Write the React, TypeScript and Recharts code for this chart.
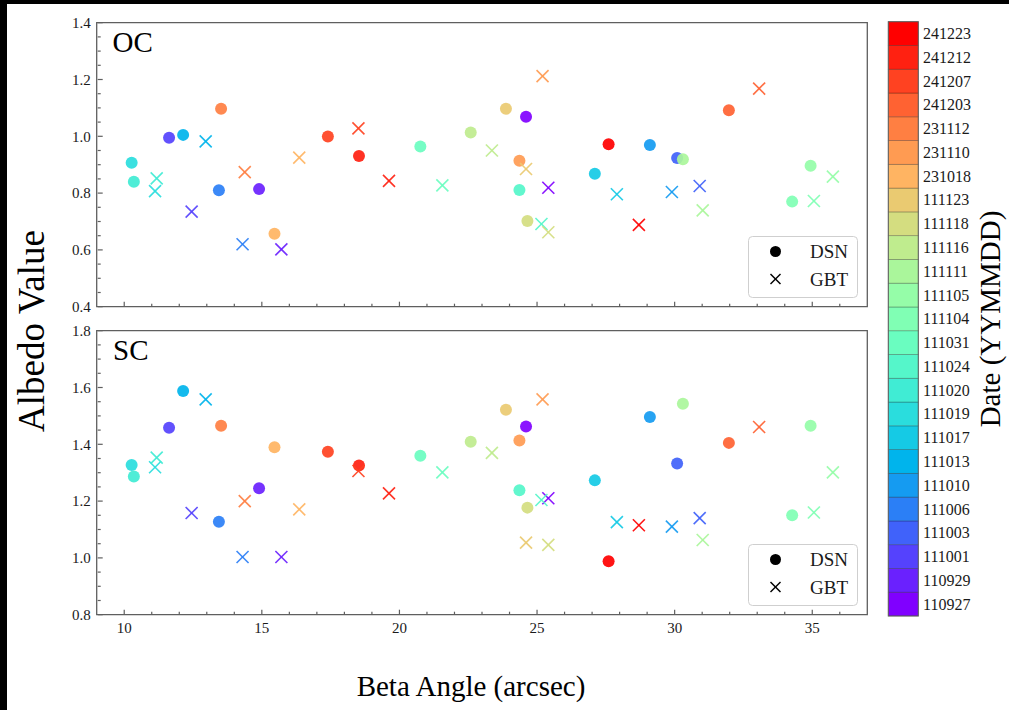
import React from 'react';
import { ScatterChart, Scatter, XAxis, YAxis, ReferenceArea, Legend } from 'recharts';

// observation dates, oldest first (colorbar runs bottom -> top)
const dates = [
  '110927', '110929', '111001', '111003', '111006', '111010', '111013', '111017', '111019',
  '111020', '111024', '111031', '111104', '111105', '111111', '111116', '111118', '111123',
  '231018', '231110', '231112', '241203', '241207', '241212', '241223',
];

// one DSN and one GBT observation per date, same order as dates
const dsnBeta = [24.6, 14.9, 11.63, 30.09, 13.44, 29.1, 12.14, 27.1, 10.27, 10.35, 24.36, 20.76, 34.27, 34.94, 30.3, 22.59, 24.65, 23.87, 15.46, 24.36, 13.52, 31.97, 17.4, 18.53, 27.6];
const dsnOC = [1.069, 0.814, 0.995, 0.924, 0.81, 0.969, 1.005, 0.868, 0.907, 0.84, 0.811, 0.964, 0.77, 0.896, 0.919, 1.013, 0.702, 1.097, 0.657, 0.914, 1.097, 1.092, 0.999, 0.931, 0.972];
const dsnSC = [1.463, 1.245, 1.458, 1.332, 1.127, 1.496, 1.588, 1.273, 1.327, 1.287, 1.238, 1.36, 1.15, 1.465, 1.543, 1.409, 1.177, 1.522, 1.39, 1.413, 1.465, 1.405, 1.374, 1.325, 0.988];

const gbtBeta = [25.41, 15.71, 12.45, 30.91, 14.3, 29.9, 12.96, 27.9, 11.12, 11.18, 25.16, 21.56, 35.06, 35.75, 31.02, 23.36, 25.41, 24.6, 16.36, 25.2, 14.38, 33.07, 18.51, 19.62, 28.7];
const gbtOC = [0.819, 0.602, 0.735, 0.825, 0.62, 0.804, 0.982, 0.796, 0.807, 0.852, 0.691, 0.827, 0.772, 0.858, 0.739, 0.95, 0.662, 0.885, 0.925, 1.212, 0.874, 1.168, 1.028, 0.843, 0.688];
const gbtSC = [1.21, 1.003, 1.158, 1.14, 1.003, 1.11, 1.558, 1.126, 1.319, 1.353, 1.204, 1.301, 1.16, 1.301, 1.063, 1.37, 1.046, 1.054, 1.171, 1.558, 1.2, 1.461, 1.306, 1.227, 1.115];

const betaTicks = [10, 15, 20, 25, 30, 35];
const ocTicks = [0.4, 0.6, 0.8, 1.0, 1.2, 1.4];
const scTicks = [0.8, 1.0, 1.2, 1.4, 1.6, 1.8];

const FONT = '"Liberation Serif", "DejaVu Serif", serif';
const AXIS = '#5f5f5f';
const TXT = '#1a1a1a';
const GAP = 7;

// matplotlib "rainbow" colormap
const rainbow = (t: number) => {
  const r = Math.min(1, Math.abs(2 * t - 0.5));
  const g = Math.sin(Math.PI * t);
  const b = Math.cos((Math.PI * t) / 2);
  return `rgb(${Math.round(r * 255)},${Math.round(g * 255)},${Math.round(b * 255)})`;
};
const colorOf = (i: number) => rainbow(i / (dates.length - 1));

const stepTicks = (lo: number, hi: number, step: number) => {
  const out: number[] = [];
  const n = Math.round((hi - lo) / step);
  for (let k = 0; k <= n; k++) out.push(+(lo + k * step).toFixed(4));
  return out;
};

const isMajor = (v: number, majors: number[]) => majors.some(m => Math.abs(m - v) < 1e-6);

const YTick = ({ x, y, payload, majors }: any) => {
  const v = payload.value;
  const major = isMajor(v, majors);
  const x0 = x + GAP;
  return (
    <g>
      <line x1={x0} x2={x0 + (major ? 5 : 3)} y1={y} y2={y} stroke={AXIS} strokeWidth={1.2} />
      {major && (
        <text x={x} y={y} dy="0.35em" textAnchor="end" fontSize={15} fill={TXT} fontFamily={FONT}>
          {v.toFixed(1)}
        </text>
      )}
    </g>
  );
};

const XTick = ({ x, y, payload, labels }: any) => {
  const v = payload.value;
  const major = isMajor(v, betaTicks);
  const y0 = y - GAP;
  return (
    <g>
      <line x1={x} x2={x} y1={y0} y2={y0 - (major ? 5 : 3)} stroke={AXIS} strokeWidth={1.2} />
      {major && labels && (
        <text x={x} y={y} dy="0.75em" textAnchor="middle" fontSize={15} fill={TXT} fontFamily={FONT}>
          {v}
        </text>
      )}
    </g>
  );
};

const Dot = (p: any) => (
  <circle cx={p.cx} cy={p.cy} r={6} fill={colorOf(p.payload.idx)} fillOpacity={0.92} />
);

const Cross = (p: any) => {
  const s = 6;
  const c = colorOf(p.payload.idx);
  return (
    <g stroke={c} strokeWidth={1.6} strokeOpacity={0.92}>
      <line x1={p.cx - s} y1={p.cy - s} x2={p.cx + s} y2={p.cy + s} />
      <line x1={p.cx - s} y1={p.cy + s} x2={p.cx + s} y2={p.cy - s} />
    </g>
  );
};

const LegendBox = ({ payload }: any) => {
  const names: string[] = payload && payload.length ? payload.map((e: any) => e.value) : ['DSN', 'GBT'];
  return (
    <svg width={110} height={62} style={{ display: 'block' }}>
      <rect x={0.5} y={0.5} width={109} height={61} rx={4} fill="#fff" fillOpacity={0.85} stroke="#cfcfcf" />
      {names.map((n, i) => {
        const cy = 15.5 + i * 27.5;
        return (
          <g key={n}>
            {n === 'DSN' ? (
              <circle cx={27.5} cy={cy} r={5.5} fill="#000" />
            ) : (
              <g stroke="#000" strokeWidth={1.5}>
                <line x1={22.5} y1={cy - 5} x2={32.5} y2={cy + 5} />
                <line x1={22.5} y1={cy + 5} x2={32.5} y2={cy - 5} />
              </g>
            )}
            <text x={62} y={cy + 6.5} fontSize={19} fill={TXT} fontFamily={FONT}>{n}</text>
          </g>
        );
      })}
    </svg>
  );
};

const build = (beta: number[], vals: number[]) => dates.map((d, i) => ({ beta: beta[i], albedo: vals[i], date: d, idx: i }));

const Panel = ({ top, height, yTicks, dsn, gbt, labels, legendTop }: any) => {
  const [y0, y1] = [yTicks[0], yTicks[yTicks.length - 1]];
  return (
    <div style={{ position: 'absolute', left: 0, top: 0 }}>
      <ScatterChart width={880} height={height} margin={{ top, right: 12.7, left: 36.7, bottom: height - top - 284 - 30 }}>
        <XAxis
          type="number" dataKey="beta" domain={[9, 37]} allowDataOverflow
          ticks={stepTicks(10, 36, 1)} interval={0} height={30}
          tickSize={0} tickMargin={GAP} tickLine={false} axisLine={false}
          tick={(p: any) => <XTick {...p} labels={labels} />}
        />
        <YAxis
          type="number" dataKey="albedo" domain={[y0, y1]} allowDataOverflow
          ticks={stepTicks(y0, y1, 0.05)} interval={0} width={60}
          tickSize={0} tickMargin={GAP - 1} tickLine={false} axisLine={false}
          tick={(p: any) => <YTick {...p} majors={yTicks} />}
        />
        <ReferenceArea x1={9} x2={37} y1={y0} y2={y1} fill="none" stroke={AXIS} strokeWidth={1.3} ifOverflow="visible" />
        <Scatter name="DSN" data={dsn} shape={Dot} isAnimationActive={false} />
        <Scatter name="GBT" data={gbt} shape={Cross} isAnimationActive={false} />
        <Legend
          layout="vertical" align="center" verticalAlign="middle"
          wrapperStyle={{ left: 747.7, top: legendTop, width: 110, height: 62 }}
          content={<LegendBox />}
        />
      </ScatterChart>
    </div>
  );
};

const ColorBar = () => {
  const top = 21.7;
  const bottom = 616;
  const h = (bottom - top) / dates.length;
  return (
    <g>
      {dates.map((d, i) => {
        const j = dates.length - 1 - i;
        const y = top + j * h;
        return (
          <g key={d}>
            <rect x={888.3} y={y} width={30} height={h} fill={colorOf(i)} stroke="rgba(0,0,0,0.3)" strokeWidth={0.8} />
            <text x={923} y={y + h / 2 + 5.5} fontSize={16} fill={TXT} fontFamily={FONT}>{d}</text>
          </g>
        );
      })}
      <rect x={888.3} y={top} width={30} height={bottom - top} fill="none" stroke={AXIS} strokeWidth={1} />
    </g>
  );
};

export default function App() {
  return (
    <div style={{ position: 'absolute', left: 0, top: 0, width: 1009, height: 710, background: '#000', overflow: 'hidden', fontFamily: FONT }}>
      <div style={{ position: 'absolute', left: 7, top: 4, width: 1002, height: 706, background: '#fff' }} />
      <Panel top={22.7} height={340} yTicks={ocTicks} dsn={build(dsnBeta, dsnOC)} gbt={build(gbtBeta, gbtOC)} labels={false} legendTop={236} />
      <Panel top={330.7} height={660} yTicks={scTicks} dsn={build(dsnBeta, dsnSC)} gbt={build(gbtBeta, gbtSC)} labels={true} legendTop={544.3} />
      <svg width={1009} height={710} style={{ position: 'absolute', left: 0, top: 0, pointerEvents: 'none' }}>
        <text x={112.5} y={51.7} fontSize={29} fill="#000" fontFamily={FONT}>OC</text>
        <text x={113} y={360} fontSize={29} fill="#000" fontFamily={FONT}>SC</text>
        <text x={31} y={331} fontSize={37} fill="#000" fontFamily={FONT} textAnchor="middle" dominantBaseline="central" transform="rotate(-90 31 331)">
          Albedo Value
        </text>
        <text x={471} y={686} fontSize={29} fill="#000" fontFamily={FONT} textAnchor="middle" dominantBaseline="central">
          Beta Angle (arcsec)
        </text>
        <text x={990} y={319} fontSize={29} fill="#000" fontFamily={FONT} textAnchor="middle" dominantBaseline="central" transform="rotate(-90 990 319)">
          Date (YYMMDD)
        </text>
        <ColorBar />
      </svg>
    </div>
  );
}
